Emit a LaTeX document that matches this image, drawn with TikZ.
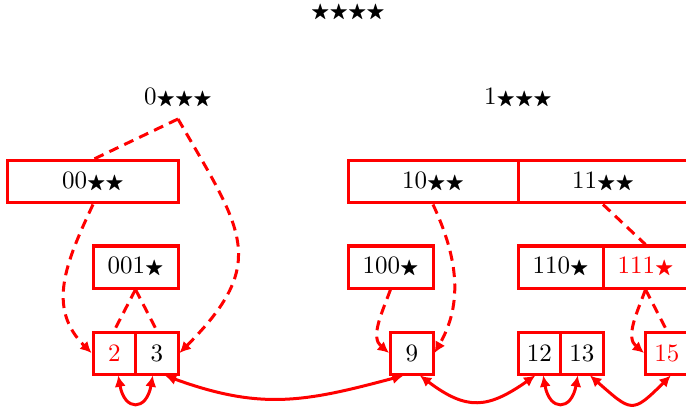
\documentclass[tikz,border=0pt]{standalone}
\usepackage{amsmath,amssymb}
\usetikzlibrary{arrows.meta}
\newcommand{\stA}{\scalebox{0.78}{$\bigstar$}}
\tikzset{
	boxA/.style={
		draw=red, line width=1.2pt, inner sep=0pt,
		minimum width=17pt, minimum height=16.8pt,
		font={\normalsize }
	},
	lblA/.style={inner sep=0pt, font={\normalsize }},
	linkA/.style={red, line width=1.2pt, dash pattern=on 4pt off 2.6pt},
	ptrA/.style={red, line width=1.2pt, <->},
	>={Latex[length=4.5pt,width=4.5pt]},
}

\begin{document}
\begin{tikzpicture}[x=0.4pt, y=0.4pt]
\useasboundingbox (0,0) rectangle (686,407);
% labels
\node [lblA] (top) at (348,394) {\stA\stA\stA\stA};
\node [lblA] (l0) at (178,309) {0\stA\stA\stA};
\node [lblA] (l1) at (518,309) {1\stA\stA\stA};
\coordinate (a0) at (178,288);
% level 2
\node [boxA, minimum width=68pt] (b00) at (93,225) {00\stA\stA};
\node [boxA, minimum width=68pt] (b10) at (433,225) {10\stA\stA};
\node [boxA, minimum width=68pt] (b11) at (603,225) {11\stA\stA};
% level 3
\node [boxA, minimum width=34pt] (b001) at (135.5,140) {001\stA};
\node [boxA, minimum width=34pt] (b100) at (390.5,140) {100\stA};
\node [boxA, minimum width=34pt] (b110) at (560.5,140) {110\stA};
\node [boxA, minimum width=34pt, text=red] (b111) at (645.5,140) {111\stA};
% leaves
\node [boxA, text=red] (v2) at (114.25,54) {2};
\node [boxA] (v3) at (156.75,54) {3};
\node [boxA] (v9) at (411.75,54) {9};
\node [boxA] (v12) at (539.25,54) {12};
\node [boxA] (v13) at (581.75,54) {13};
\node [boxA, text=red] (v15) at (666.75,54) {15};

\draw [linkA] (a0) -- (b00.north);
\draw [linkA, ->] (a0) to[out=-60, in=45, looseness=1.4] (v3.east);
\draw [linkA, ->] (b00.south) to[out=-115, in=135, looseness=1.1] (v2.west);
\draw [linkA] (b001.south) -- (v2.north);
\draw [linkA] (b001.south) -- (v3.north);
\draw [linkA, ->] (b10.south) to[out=-65, in=60] (v9.east);
\draw [linkA, ->] (b100.south) to[out=-110, in=140] (v9.west);
\draw [linkA] (b11.south) -- (b111.north);
\draw [linkA, ->] (b111.south) to[out=-110, in=140] (v15.west);
\draw [linkA] (b111.south) -- (v15.north);

\draw [ptrA] (v2.-80) to[out=-80, in=-100, looseness=2.7] (v3.-100);
\draw [ptrA] (v3.-70) to[out=-20, in=-165, looseness=1.1] (v9.-110);
\draw [ptrA] (v9.-70) to[out=-37, in=-145, looseness=1.3] (v12.-100);
\draw [ptrA] (v12.-80) to[out=-80, in=-100, looseness=2.7] (v13.-100);
\draw [ptrA] (v13.-70) to[out=-41, in=-135, looseness=1.75] (v15.-80);
\end{tikzpicture}
\end{document}
